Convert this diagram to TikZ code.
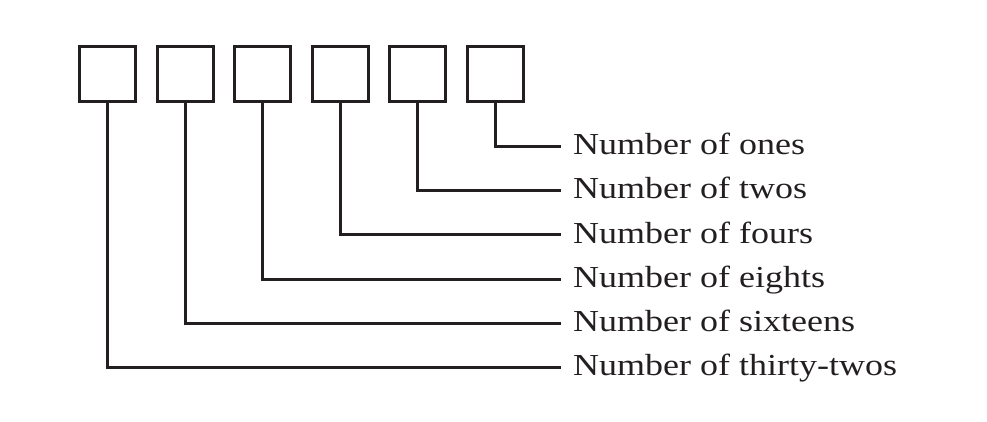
\documentclass[tikz,border=0pt]{standalone}
\usepackage{graphicx}
\usepackage{fontspec}
\newfontfamily\lblfont{Liberation Serif}
\definecolor{ink}{HTML}{231F20}
\begin{document}
\begin{tikzpicture}[x=1pt,y=-1pt,
  digitbox/.style={draw=ink,line width=3pt,minimum width=56pt,minimum height=55pt,inner sep=0pt,fill=white},
  leader/.style={draw=ink,line width=3pt},
  lbl/.style={anchor=base west,inner sep=0pt,text=ink,font=\lblfont\fontsize{30.5}{32}\selectfont}]
\useasboundingbox (0,0) rectangle (987,422);
\foreach \i/\t in {0/thirty-twos,1/sixteens,2/eights,3/fours,4/twos,5/ones}{
  \pgfmathsetmacro\bx{107.5+77.6*\i}
  \pgfmathsetmacro\ly{367.6-44.3*\i}
  \node[digitbox] (b\i) at (\bx,74) {};
  \coordinate (e\i) at (561,\ly);
  \node[lbl] (t\i) at (573,\ly+8.3) {\scalebox{1.18}[1]{Number of \t}};
  \draw[leader] (b\i.south) |- (e\i);
}
\end{tikzpicture}
\end{document}
